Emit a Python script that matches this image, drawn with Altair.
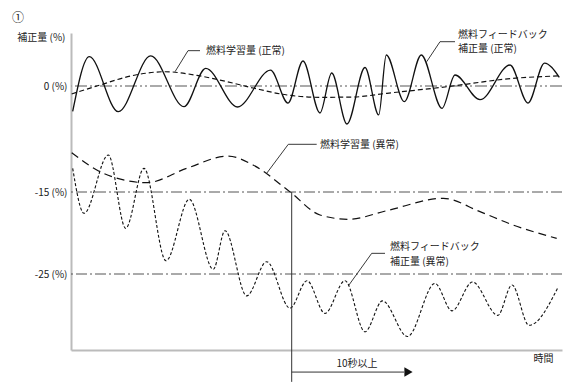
import altair as alt
import pandas as pd

FONT = "Noto Sans CJK JP"

# time axis (arbitrary seconds) and correction amount (%)
fb_norm_t = [0.17, 1.83, 4.73, 7.97, 11.3, 13.47, 16.65, 19.95, 21.7, 23.2, 24.9, 26.07, 27.6,
             29.4, 30.77, 31.53, 33.33, 35.03, 37.1, 38.4, 40.9, 43.9, 45.7, 47.35, 48.83]
fb_norm_v = [-3.6, 4.15, -3.64, 4.25, -2.93, 2.5, -2.97, 2.26, -2.41, 3.54, -3.82, 1.84, -5.38,
             2.62, -4.1, 4.39, -2.22, 4.39, -3.16, 1.56, -1.94, 2.97, -2.41, 3.25, 1.23]

learn_norm_t = [0.07, 2.9, 6.2, 9.4, 12.9, 15.6, 18.2, 21.6, 24.9, 28.2, 31.6, 37.6, 44.2, 48.7]
learn_norm_v = [-1.13, 0.14, 1.49, 2.02, 1.42, 0.61, -0.28, -1.27, -1.6, -1.56, -1.03, -0.1, 1.08, 1.42]

learn_abn_t = [0.07, 3.23, 7.57, 11.57, 15.7, 18.2, 21.9, 24.9, 27.73, 31.57, 37.23, 40.9, 44.2, 48.57]
learn_abn_v = [-9.44, -12.35, -13.68, -11.65, -9.91, -11.18, -14.98, -17.8, -18.33, -17.28, -15.77,
               -17.4, -19.02, -20.65]

fb_abn_t = [0.17, 1.3, 3.73, 5.47, 7.3, 9.5, 11.83, 14.23, 15.4, 17.57, 19.57, 21.9, 23.6, 25.4,
            27.4, 29.4, 31.15, 33.65, 36.4, 38.1, 40.15, 42.68, 44.1, 45.8, 48.73]
fb_abn_v = [-11.65, -17.6, -9.76, -19.43, -11.65, -23.38, -15.89, -24.43, -19.72, -27.68, -23.5,
            -29.18, -25.82, -29.82, -25.82, -32.07, -28.29, -32.65, -26.16, -29.51, -25.98, -30.06,
            -26.34, -31.28, -26.55]

ref_levels = [0, -15, -25]
tick_values = [0, -15, -25]

# annotation leader lines (three points each)
leader_id = [1, 1, 1, 2, 2, 2, 3, 3, 3, 4, 4, 4]
leader_k = [0, 1, 2] * 4
leader_t = [12.9, 11.7, 10.4, 38.4, 36.9, 35.57, 24.57, 21.73, 19.57, 31.4, 30.07, 27.73]
leader_v = [5.0, 5.0, 2.02, 6.27, 6.27, 3.44, -8.25, -8.25, -12.35, -22.48, -22.48, -26.46]

label_text = ["燃料学習量 (正常)", "燃料フィードバック", "補正量 (正常)", "燃料学習量 (異常)",
              "燃料フィードバック", "補正量 (異常)"]
label_t = [13.5, 38.7, 38.7, 24.9, 31.9, 31.9]
label_v = [5.0, 7.22, 5.19, -8.35, -21.67, -23.5]

# 10-second marker
mark_t = 22.07
arrow_end_t = 33.3
arrow_head_t = 33.75
mark_bottom_v = -38.2
arrow_v = -37.0
span_label = "10秒以上"
span_label_t = 28.6
span_label_v = -36.0

xscale = alt.Scale(domain=[0, 49.1], nice=False, zero=False)
yscale = alt.Scale(domain=[-34.3, -25, -15, 0, 7.5], range=[317, 241, 159, 53, 0], nice=False, zero=False)

xaxis = alt.Axis(labels=False, ticks=False, grid=False, domainColor="#bbbbbb", domainWidth=2,
                 title="時間", titleX=482, titleY=8, titleAlign="right", titleBaseline="middle",
                 titleFont=FONT, titleFontSize=10, titleFontWeight="normal", titleColor="#222222")
yaxis = alt.Axis(values=tick_values, labelExpr="datum.value + ' (%)'", ticks=False, grid=False,
                 domainColor="#bbbbbb", domainWidth=2, labelFont=FONT, labelFontSize=10,
                 labelColor="#222222", labelPadding=4,
                 title="補正量 (%)", titleAngle=0, titleAlign="right", titleBaseline="middle",
                 titleX=-6, titleY=4, titleFont=FONT, titleFontSize=10, titleFontWeight="normal",
                 titleColor="#222222")

X = alt.X("t:Q", scale=xscale, axis=xaxis)
Y = alt.Y("v:Q", scale=yscale, axis=yaxis)


def df(t, v):
    return pd.DataFrame({"t": t, "v": v})


zero_line = alt.Chart(pd.DataFrame({"v": ref_levels[:1]})).mark_rule(
    color="#aaaaaa", strokeWidth=2, strokeDash=[12, 3, 2, 3, 2, 3]).encode(y=Y)
low_lines = alt.Chart(pd.DataFrame({"v": ref_levels[1:]})).mark_rule(
    color="#555555", strokeWidth=1, strokeDash=[11, 3, 2, 3]).encode(y=Y)

fb_norm = alt.Chart(df(fb_norm_t, fb_norm_v)).mark_line(
    color="#111111", strokeWidth=1.3, interpolate="monotone").encode(x=X, y=Y)
learn_norm = alt.Chart(df(learn_norm_t, learn_norm_v)).mark_line(
    color="#111111", strokeWidth=1.2, strokeDash=[5, 3], interpolate="monotone").encode(x=X, y=Y)
learn_abn = alt.Chart(df(learn_abn_t, learn_abn_v)).mark_line(
    color="#111111", strokeWidth=1.2, strokeDash=[8, 5], interpolate="monotone").encode(x=X, y=Y)
fb_abn = alt.Chart(df(fb_abn_t, fb_abn_v)).mark_line(
    color="#111111", strokeWidth=1.1, strokeDash=[3, 2], interpolate="monotone").encode(x=X, y=Y)

leaders = alt.Chart(pd.DataFrame({"id": leader_id, "k": leader_k, "t": leader_t, "v": leader_v})).mark_line(
    color="#222222", strokeWidth=0.9).encode(x=X, y=Y, detail="id:N", order="k:Q")

labels = alt.Chart(pd.DataFrame({"t": label_t, "v": label_v, "label": label_text})).mark_text(
    font=FONT, fontSize=10, color="#222222", align="left", baseline="middle").encode(x=X, y=Y, text="label:N")

vline = alt.Chart(pd.DataFrame({"t": [mark_t], "v": [-15], "v2": [mark_bottom_v]})).mark_rule(
    color="#333333", strokeWidth=1).encode(x=X, y=Y, y2="v2:Q")
arrow = alt.Chart(pd.DataFrame({"t": [mark_t], "t2": [arrow_end_t], "v": [arrow_v]})).mark_rule(
    color="#333333", strokeWidth=1).encode(x=X, x2="t2:Q", y=Y)
head = alt.Chart(pd.DataFrame({"t": [arrow_head_t], "v": [arrow_v]})).mark_point(
    shape="triangle-right", filled=True, size=90, color="#111111", opacity=1).encode(x=X, y=Y)
span = alt.Chart(pd.DataFrame({"t": [span_label_t], "v": [span_label_v], "label": [span_label]})).mark_text(
    font=FONT, fontSize=10, color="#222222", align="center", baseline="middle").encode(x=X, y=Y, text="label:N")

num = alt.Chart(pd.DataFrame({"t": [-5.3], "v": [9.6], "label": ["①"]})).mark_text(
    font=FONT, fontSize=12, color="#222222", align="center", baseline="middle").encode(x=X, y=Y, text="label:N")

chart = alt.layer(
    zero_line, low_lines, learn_norm, fb_norm, learn_abn, fb_abn, leaders, labels, vline, arrow, head, span, num
).properties(
    width=491, height=317,
    autosize=alt.AutoSizeParams(type="none"),
    padding={"left": 63, "top": 25, "right": 2, "bottom": 35},
    background="white",
).configure_view(stroke=None)

chart.save("out.html", embed_options={"renderer": "svg", "actions": False})
